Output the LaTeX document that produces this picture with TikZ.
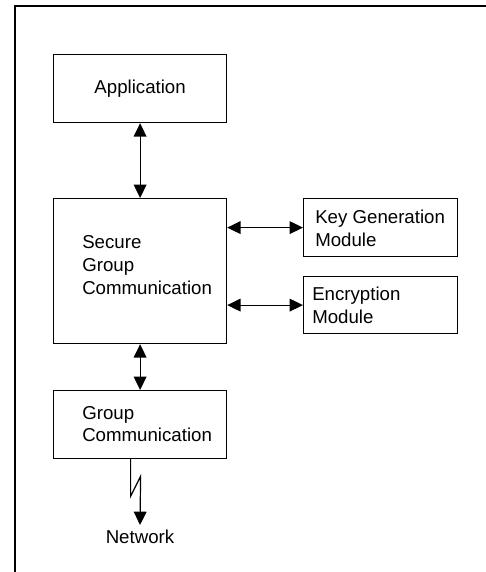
\documentclass[tikz,border=0pt]{standalone}
\usepackage{fontspec}
\setmainfont{Liberation Sans}
\usetikzlibrary{arrows.meta}
\tikzset{
  box/.style={draw, line width=0.9pt, inner sep=0pt, anchor=north west},
  boxtext/.style={anchor=west, align=left, inner sep=0pt},
  link/.style={{Triangle[length=10pt,width=9.5pt]}-{Triangle[length=10pt,width=9.5pt]}, line width=0.9pt},
}

\begin{document}
\begin{tikzpicture}[x=0.75pt, y=-0.75pt, font=\fontsize{14}{17}\selectfont] % layers of the group system
    \useasboundingbox (0,0) rectangle (486,572);

    % outer frame (open to the right and bottom)
    \draw [line width=1.5pt] (490,6) -- (14.5,6) -- (14.5,576);

    % define boxes (top left corner, size)
    \node [box, minimum width=129.75pt, minimum height=51pt]     (app) at (53,54)  {Application};
    \node [box, minimum width=129.75pt, minimum height=108.75pt] (sgc) at (53,198) {};
    \node [box, minimum width=115.5pt,  minimum height=43.5pt]   (kgm) at (303,198) {};
    \node [box, minimum width=115.5pt,  minimum height=42.75pt]  (enc) at (303,276) {};
    \node [box, minimum width=129.75pt, minimum height=51pt]     (gc)  at (53,390) {};

    % annotate (texts inside boxes)
    \node [boxtext] (sgc text) at (82,265)  {Secure\\Group\\Communication};
    \node [boxtext] (kgm text) at (315,228) {Key Generation\\Module};
    \node [boxtext] (enc text) at (312,305) {Encryption\\Module};
    \node [boxtext] (gc text)  at (82,424)  {Group\\Communication};
    \node [inner sep=0pt] (net) at (140,537) {Network};

    % draw arrows between boxes
    \draw [link] (app.south) -- (sgc.north);
    \draw [link] (sgc.east |- kgm.west) -- (kgm.west);
    \draw [link] (sgc.east |- enc.west) -- (enc.west);
    \draw [link] (sgc.south) -- (gc.north);

    % link to the network
    \coordinate (tip) at (140,525);
    \draw [-{Triangle[length=10pt,width=9.5pt]}, line width=0.9pt]
        ([xshift=-7.125pt]gc.south) -- ++(0,37) -- ++(10,-20) -- (tip);
\end{tikzpicture}
\end{document}
